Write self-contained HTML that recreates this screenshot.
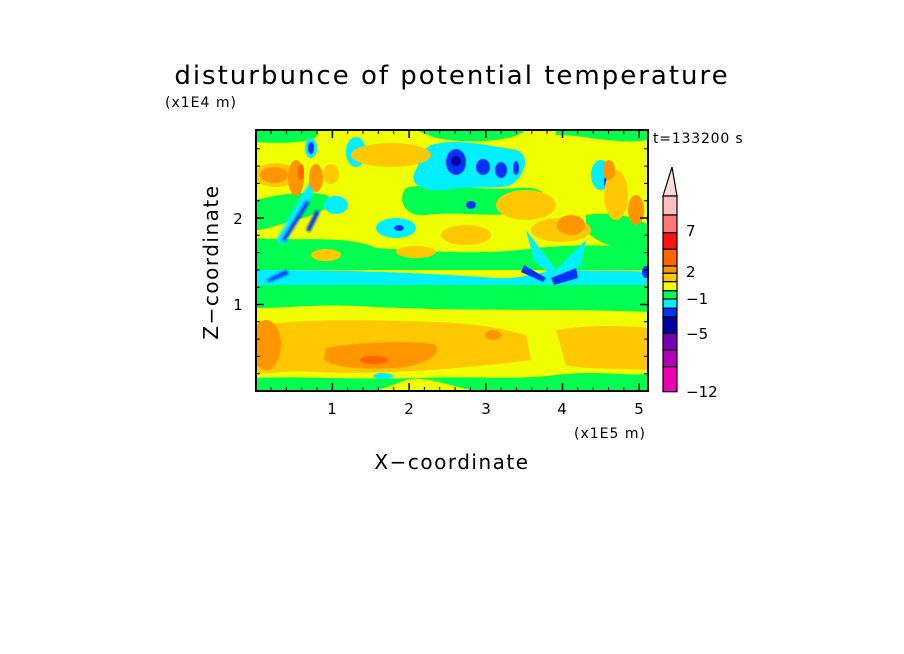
<!DOCTYPE html>
<html><head><style>
body{margin:0;background:#fff;}
svg{display:block;font-family:"DejaVu Sans","Liberation Sans",sans-serif;}
</style></head><body>
<svg width="904" height="654" viewBox="0 0 904 654" xmlns="http://www.w3.org/2000/svg">
<defs>
<clipPath id="c"><rect x="256" y="130" width="392" height="261"/></clipPath>
<filter id="b" x="-10%" y="-10%" width="120%" height="120%"><feGaussianBlur stdDeviation="1.2"/></filter>
</defs>
<text x="452" y="84" font-size="26" text-anchor="middle" fill="#000" letter-spacing="2">disturbunce of potential temperature</text>
<text x="165" y="107" font-size="14" fill="#000" letter-spacing="1">(x1E4 m)</text>
<g clip-path="url(#c)">
<g transform="translate(256,130)">
<rect x="0" y="0" width="392" height="261" fill="#f0ff00"/>
<path d="M0,0 H60 C70,10 40,15 0,12Z" fill="#00ff50"/>
<path d="M160,0 H270 C260,10 220,15 180,8Z" fill="#00ff50"/>
<path d="M300,0 H392 V10 C360,15 330,5 300,5Z" fill="#00ff50"/>
<path d="M150,58 C180,50 220,62 260,58 C290,55 300,70 275,80 C240,90 200,80 170,85 C150,88 140,70 150,58Z" fill="#00ff50"/>
<path d="M0,70 C20,65 50,60 70,65 C85,75 60,85 40,90 C20,95 10,100 0,100Z" fill="#00ff50"/>
<path d="M330,85 C360,80 385,90 392,95 V125 C370,120 340,115 330,100Z" fill="#00ff50"/>
<path d="M0,108 C40,112 90,104 120,118 C180,122 230,125 280,118 C320,114 360,115 392,118 V140 H0Z" fill="#00ff50"/>
<ellipse cx="70" cy="125" rx="15" ry="6" fill="#ffc800"/>
<ellipse cx="160" cy="122" rx="20" ry="6" fill="#ffc800"/>
<path d="M0,140 C80,140 160,142 240,148 C270,150 290,138 320,140 C350,142 370,140 392,142 V158 C300,160 200,158 100,156 C60,156 30,160 0,158Z" fill="#00f0ff"/>
<path d="M0,155 H392 V182 C300,178 200,182 100,176 C60,174 30,178 0,178Z" fill="#00ff50"/>
<path d="M175,15 C200,8 230,15 260,20 C275,25 270,45 255,55 C240,60 210,55 190,60 C170,62 150,55 160,40 C165,30 165,20 175,15Z" fill="#00f0ff"/>
<ellipse cx="200" cy="32" rx="10" ry="13" fill="#0032ff"/>
<ellipse cx="200" cy="31" rx="5" ry="5" fill="#0000a0"/>
<ellipse cx="227" cy="37" rx="7" ry="8" fill="#0032ff"/>
<ellipse cx="245" cy="40" rx="6" ry="8" fill="#0032ff"/>
<ellipse cx="260" cy="38" rx="3" ry="7" fill="#0032ff"/>
<ellipse cx="215" cy="75" rx="5" ry="4" fill="#0032ff"/>
<ellipse cx="140" cy="98" rx="20" ry="10" fill="#00f0ff"/>
<ellipse cx="143" cy="98" rx="5" ry="3" fill="#0032ff"/>
<ellipse cx="80" cy="75" rx="12" ry="9" fill="#00f0ff"/>
<ellipse cx="345" cy="45" rx="10" ry="15" fill="#00f0ff"/>
<ellipse cx="350" cy="52" rx="2" ry="6" fill="#0032ff"/>
<ellipse cx="100" cy="22" rx="10" ry="15" fill="#00f0ff"/>
<ellipse cx="55" cy="18" rx="6" ry="10" fill="#00f0ff"/>
<ellipse cx="55" cy="18" rx="3" ry="6" fill="#0032ff"/>
<g filter="url(#b)">
<path d="M20,110 L55,50 L62,55 L28,115Z" fill="#00f0ff"/>
<path d="M25,110 L50,70 L54,72 L29,112Z" fill="#0032ff"/>
<path d="M50,100 L60,80 L64,82 L54,102Z" fill="#0032ff"/>
<path d="M10,150 L30,140 L33,144 L13,152Z" fill="#0032ff"/>
</g>
<ellipse cx="20" cy="45" rx="22" ry="12" fill="#ffc800"/>
<ellipse cx="18" cy="45" rx="14" ry="8" fill="#ff9600"/>
<ellipse cx="40" cy="48" rx="8" ry="18" fill="#ff9600"/>
<ellipse cx="45" cy="42" rx="3" ry="8" fill="#ff6400"/>
<ellipse cx="60" cy="48" rx="7" ry="14" fill="#ff9600"/>
<ellipse cx="75" cy="44" rx="8" ry="10" fill="#ffc800"/>
<ellipse cx="135" cy="25" rx="40" ry="12" fill="#ffc800"/>
<ellipse cx="270" cy="75" rx="30" ry="15" fill="#ffc800"/>
<ellipse cx="305" cy="100" rx="30" ry="12" fill="#ffc800"/>
<ellipse cx="315" cy="95" rx="14" ry="10" fill="#ff9600"/>
<ellipse cx="360" cy="65" rx="12" ry="25" fill="#ffc800"/>
<ellipse cx="353" cy="40" rx="6" ry="10" fill="#ff9600"/>
<ellipse cx="380" cy="80" rx="8" ry="15" fill="#ff9600"/>
<ellipse cx="210" cy="105" rx="25" ry="10" fill="#ffc800"/>
<path d="M270,100 L300,140 L330,110 L325,135 L300,150 L278,130Z" fill="#00f0ff"/>
<path d="M268,135 L290,148 L287,152 L265,142Z" fill="#0032ff"/>
<path d="M295,148 L320,138 L322,148 L298,155Z" fill="#0032ff"/>
<ellipse cx="390" cy="142" rx="4" ry="6" fill="#0032ff"/>
<path d="M0,195 C60,188 120,190 180,192 C230,194 250,200 270,205 L275,230 C200,240 120,245 60,242 C30,240 10,245 0,243Z" fill="#ffc800"/>
<path d="M300,200 C330,195 370,195 392,198 V240 C360,238 330,240 310,235Z" fill="#ffc800"/>
<path d="M70,218 C100,212 160,210 180,215 C185,225 170,235 140,238 C110,240 80,238 68,230Z" fill="#ff9600"/>
<ellipse cx="118" cy="230" rx="14" ry="4" fill="#ff6400"/>
<ellipse cx="10" cy="215" rx="15" ry="25" fill="#ff9600"/>
<ellipse cx="237" cy="205" rx="8" ry="5" fill="#ff9600"/>
<path d="M0,248 C40,246 100,250 160,248 C220,246 260,250 300,245 C340,240 370,246 392,244 V261 H0Z" fill="#00ff50"/>
<path d="M150,250 C170,245 200,258 220,261 H120Z" fill="#f0ff00"/>
<ellipse cx="127" cy="246" rx="10" ry="3" fill="#00f0ff"/>
</g>
</g>
<rect x="256" y="130" width="392" height="261" fill="none" stroke="#000" stroke-width="2"/>
<g stroke="#000" stroke-width="1.5">
<line x1="332.4" y1="391" x2="332.4" y2="383"/><line x1="409.1" y1="391" x2="409.1" y2="383"/><line x1="485.8" y1="391" x2="485.8" y2="383"/><line x1="562.5" y1="391" x2="562.5" y2="383"/><line x1="639.2" y1="391" x2="639.2" y2="383"/>
<line x1="332.4" y1="130" x2="332.4" y2="138"/><line x1="409.1" y1="130" x2="409.1" y2="138"/><line x1="485.8" y1="130" x2="485.8" y2="138"/><line x1="562.5" y1="130" x2="562.5" y2="138"/><line x1="639.2" y1="130" x2="639.2" y2="138"/>
<line x1="256" y1="304.5" x2="264" y2="304.5"/><line x1="256" y1="218" x2="264" y2="218"/>
<line x1="648" y1="304.5" x2="640" y2="304.5"/><line x1="648" y1="218" x2="640" y2="218"/>
</g>
<g stroke="#000" stroke-width="1">
<path d="M256,373.7h4M256,356.4h4M256,339.1h4M256,321.8h4M256,287.2h4M256,269.9h4M256,252.6h4M256,235.3h4M256,200.7h4M256,183.4h4M256,166.1h4M256,148.8h4"/>
<path d="M648,373.7h-4M648,356.4h-4M648,339.1h-4M648,321.8h-4M648,287.2h-4M648,269.9h-4M648,252.6h-4M648,235.3h-4M648,200.7h-4M648,183.4h-4M648,166.1h-4M648,148.8h-4"/>
<path d="M271,391v-4M286.4,391v-4M301.7,391v-4M317,391v-4M347.7,391v-4M363,391v-4M378.4,391v-4M393.7,391v-4M424.4,391v-4M439.7,391v-4M455.1,391v-4M470.4,391v-4M501.1,391v-4M516.4,391v-4M531.8,391v-4M547.1,391v-4M577.8,391v-4M593.2,391v-4M608.5,391v-4M623.8,391v-4"/>
<path d="M271,130v4M286.4,130v4M301.7,130v4M317,130v4M347.7,130v4M363,130v4M378.4,130v4M393.7,130v4M424.4,130v4M439.7,130v4M455.1,130v4M470.4,130v4M501.1,130v4M516.4,130v4M531.8,130v4M547.1,130v4M577.8,130v4M593.2,130v4M608.5,130v4M623.8,130v4"/>
</g>
<g font-size="15" fill="#000" text-anchor="middle">
<text x="332" y="414">1</text><text x="409" y="414">2</text><text x="486" y="414">3</text><text x="562" y="414">4</text><text x="639" y="414">5</text>
<text x="238" y="224">2</text><text x="238" y="310">1</text>
</g>
<text x="610" y="438" font-size="14" text-anchor="middle" letter-spacing="1">(x1E5 m)</text>
<text x="452" y="469" font-size="20" text-anchor="middle" letter-spacing="1.5">X−coordinate</text>
<text x="0" y="0" font-size="20" text-anchor="middle" letter-spacing="1.5" transform="translate(218,262) rotate(-90)">Z−coordinate</text>
<text x="653" y="143" font-size="14" letter-spacing="0.8">t=133200 s</text>
<g stroke="#000" stroke-width="1.2">
<path d="M672,167 L677,196 H663Z" fill="#ffdcdc"/>
<rect x="663" y="196" width="14" height="19" fill="#ffbebe"/>
<rect x="663" y="215" width="14" height="17.7" fill="#ff7878"/>
<rect x="663" y="232.7" width="14" height="16.6" fill="#ff1414"/>
<rect x="663" y="249.3" width="14" height="16.7" fill="#ff6400"/>
<rect x="663" y="266" width="14" height="7.3" fill="#ff9600"/>
<rect x="663" y="273.3" width="14" height="8.4" fill="#ffc800"/>
<rect x="663" y="281.7" width="14" height="9" fill="#f0ff00"/>
<rect x="663" y="290.7" width="14" height="8.3" fill="#00ff50"/>
<rect x="663" y="299" width="14" height="9.3" fill="#00f0ff"/>
<rect x="663" y="308.3" width="14" height="8.4" fill="#0032ff"/>
<rect x="663" y="316.7" width="14" height="16.6" fill="#0000a0"/>
<rect x="663" y="333.3" width="14" height="16.7" fill="#7800b4"/>
<rect x="663" y="350" width="14" height="16.7" fill="#b400b4"/>
<rect x="663" y="366.7" width="14" height="25" fill="#f000b4"/>
</g>
<g font-size="15" fill="#000">
<text x="686" y="236">7</text><text x="686" y="277">2</text><text x="686" y="304">−1</text><text x="686" y="339">−5</text><text x="686" y="397">−12</text>
</g>
</svg>
</body></html>
